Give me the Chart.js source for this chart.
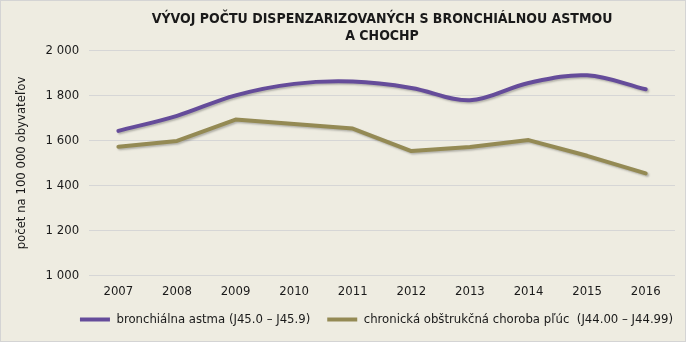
<!DOCTYPE html>
<html>
<head>
<meta charset="utf-8">
<script src="https://cdn.jsdelivr.net/npm/chart.js@4"></script>
<style>
  html, body { margin: 0; padding: 0; background: #ffffff; }
  #wrap {
    width: 686px; height: 342px; box-sizing: border-box;
    border: 1px solid #d4d4d4; background: #eeece1;
  }
  #chart { display: block; }
</style>
</head>
<body>
<div id="wrap"><canvas id="chart" width="684" height="340"></canvas></div>
<script>
// Dispensarized asthma / COPD patients per 100 000 inhabitants, 2007-2016

const years = ['2007', '2008', '2009', '2010', '2011', '2012', '2013', '2014', '2015', '2016'];
const asthma = [1643, 1710, 1801, 1852, 1862, 1834, 1779, 1856, 1890, 1828];
const copd = [1572, 1598, 1693, 1673, 1653, 1553, 1571, 1602, 1532, 1454];
const titleLines = ['VÝVOJ POČTU DISPENZARIZOVANÝCH S BRONCHIÁLNOU ASTMOU', 'A CHOCHP'];
const seriesNames = ['bronchiálna astma (J45.0 – J45.9)', 'chronická obštrukčná choroba pľúc  (J44.00 – J44.99)'];
const yTitle = 'počet na 100 000 obyvateľov';

const FONT = "'Liberation Sans Narrow', 'Arial Narrow', 'DejaVu Sans Condensed', sans-serif";
const PURPLE = '#654c9a';
const OLIVE = '#948a54';
const LEGEND_SHIFT_X = 32;
const LEGEND_SHIFT_Y = -11;

// soft drop shadow under the lines, like the office chart
const lineShadow = {
  id: 'lineShadow',
  beforeDatasetDraw(chart) {
    const ctx = chart.ctx;
    ctx.save();
    ctx.shadowColor = 'rgba(0,0,0,0.25)';
    ctx.shadowBlur = 2;
    ctx.shadowOffsetX = 1.5;
    ctx.shadowOffsetY = 1.5;
  },
  afterDatasetDraw(chart) {
    chart.ctx.restore();
  }
};

// legend sits centred under the plot area in the original, not under the canvas
const legendShift = {
  id: 'legendShift',
  afterLayout(chart) {
    const lg = chart.legend;
    if (!lg) return;
    lg.left += LEGEND_SHIFT_X;
    lg.right += LEGEND_SHIFT_X;
    lg.top += LEGEND_SHIFT_Y;
    lg.bottom += LEGEND_SHIFT_Y;
  }
};

function fmtThousands(v) {
  return String(v).replace(/\B(?=(\d{3})+(?!\d))/g, ' ');
}

// flat legend swatches: no outline, just a thin bar in the series colour
function legendLabels(chart) {
  const base = Chart.defaults.plugins.legend.labels.generateLabels(chart);
  return base.map(item => Object.assign(item, { lineWidth: 0, strokeStyle: 'transparent' }));
}

new Chart(document.getElementById('chart'), {
  type: 'line',
  data: {
    labels: years,
    datasets: [
      {
        label: seriesNames[0],
        data: asthma,
        borderColor: PURPLE,
        backgroundColor: PURPLE,
        borderWidth: 4,
        tension: 0.35,
        pointRadius: 0,
        borderCapStyle: 'round',
        fill: false,
      },
      {
        label: seriesNames[1],
        data: copd,
        borderColor: OLIVE,
        backgroundColor: OLIVE,
        borderWidth: 4,
        tension: 0,
        pointRadius: 0,
        borderCapStyle: 'round',
        borderJoinStyle: 'round',
        fill: false,
      }
    ]
  },
  plugins: [lineShadow, legendShift],
  options: {
    responsive: false,
    animation: false,
    layout: { padding: { top: 6, right: 10, left: 13, bottom: 4 } },
    scales: {
      x: {
        offset: true,
        grid: { display: false, drawTicks: false },
        border: { display: false },
        ticks: { color: '#1a1a1a', font: { family: FONT, size: 13 }, padding: 8 },
      },
      y: {
        min: 1000,
        max: 2000,
        grid: { color: '#d6d6d6', lineWidth: 1, drawTicks: false },
        border: { display: false },
        ticks: {
          stepSize: 200,
          color: '#1a1a1a',
          font: { family: FONT, size: 13 },
          padding: 10,
          callback: v => fmtThousands(v),
        },
        title: {
          display: true,
          text: yTitle,
          color: '#1a1a1a',
          font: { family: FONT, size: 13 },
          padding: { top: 0, bottom: 6 },
        }
      }
    },
    plugins: {
      title: {
        display: true,
        fullSize: false,
        text: titleLines,
        color: '#1a1a1a',
        font: { family: FONT, size: 14, weight: 'bold', lineHeight: 1.2 },
        padding: { top: 4, bottom: 6 },
      },
      legend: {
        position: 'bottom',
        maxHeight: 30,
        labels: {
          color: '#1a1a1a',
          font: { family: FONT, size: 13 },
          boxWidth: 30,
          boxHeight: 4,
          padding: 17,
          generateLabels: legendLabels,
        }
      },
      tooltip: { enabled: false }
    }
  }
});
</script>
</body>
</html>
